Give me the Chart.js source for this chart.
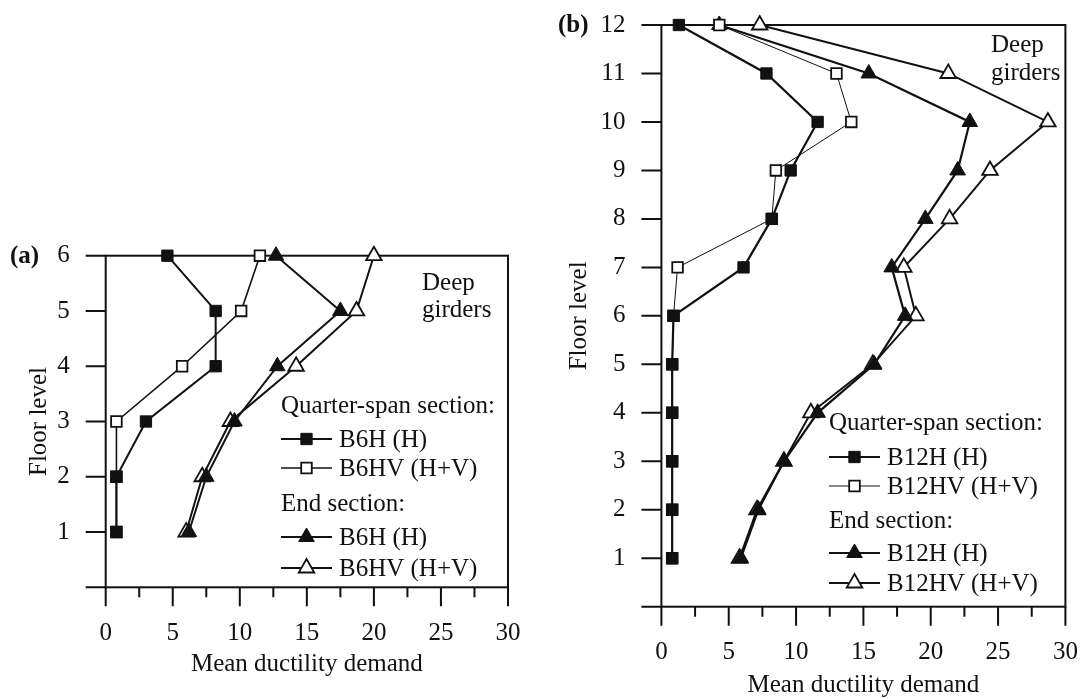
<!DOCTYPE html>
<html>
<head>
<meta charset="utf-8">
<script src="https://cdn.jsdelivr.net/npm/chart.js@4.4.1/dist/chart.umd.min.js"></script>
<style>
  html, body { margin: 0; padding: 0; background: #fff; }
  #boxA { position: absolute; left: 0; top: 0; width: 540px; height: 699px; }
  #boxB { position: absolute; left: 540px; top: 0; width: 541px; height: 699px; }
</style>
</head>
<body>
<div id="boxA"><canvas id="chartA" width="540" height="699"></canvas></div>
<div id="boxB"><canvas id="chartB" width="541" height="699"></canvas></div>
<script>
// values (mean ductility demand per floor)
const floorsA = [1, 2, 3, 4, 5, 6];
const b6hQuarter  = [0.8, 0.8, 3.0, 8.2, 8.2, 4.6];
const b6hvQuarter = [0.8, 0.8, 0.8, 5.7, 10.1, 11.5];
const b6hEnd      = [6.2, 7.5, 9.6, 12.8, 17.5, 12.7];
const b6hvEnd     = [6.0, 7.2, 9.3, 14.2, 18.7, 20.0];

const floorsB = [1, 2, 3, 4, 5, 6, 7, 8, 9, 10, 11, 12];
const b12hQuarter  = [0.8, 0.8, 0.8, 0.8, 0.8, 0.9, 6.1, 8.2, 9.6, 11.6, 7.8, 1.3];
const b12hvQuarter = [0.8, 0.8, 0.8, 0.8, 0.8, 0.9, 1.2, 8.2, 8.5, 14.1, 13.0, 4.3];
const b12hEnd      = [5.9, 7.2, 9.1, 11.6, 15.8, 18.1, 17.1, 19.6, 22.0, 22.9, 15.4, 4.3];
const b12hvEnd     = [5.8, 7.1, 9.1, 11.1, 15.7, 18.9, 18.0, 21.4, 24.4, 28.7, 21.3, 7.3];

const xTicks = [0, 5, 10, 15, 20, 25, 30];

const INK = '#111';
const SERIF = '"Liberation Serif", "Times New Roman", serif';
Chart.defaults.font.family = SERIF;
Chart.defaults.font.size = 25;
Chart.defaults.color = INK;

function series(label, xs, floors, style) {
  return Object.assign({
    label: label,
    data: xs.map((v, i) => ({ x: v, y: floors[i] })),
    borderColor: INK,
    pointBorderColor: INK,
    clip: false,
    tension: 0
  }, style);
}

const filledSq  = { pointStyle: 'rect', pointRadius: 8, pointBackgroundColor: INK, pointBorderWidth: 1, borderWidth: 2 };
const openSq    = { pointStyle: 'rect', pointRadius: 7.5, pointBackgroundColor: '#fff', pointBorderWidth: 1.8, borderWidth: 1.6 };
const filledTri = { pointStyle: 'triangle', pointRadius: 9, pointBackgroundColor: INK, pointBorderWidth: 1, borderWidth: 2 };
const openTri   = { pointStyle: 'triangle', pointRadius: 9, pointBackgroundColor: '#fff', pointBorderWidth: 1.8, borderWidth: 2 };

// draws the box, the tick marks, the panel letter, the note and the grouped legend
const framePlugin = {
  id: 'frame',
  beforeDatasetsDraw(chart) {
    const { ctx, chartArea: a, scales: { x, y } } = chart;
    ctx.save();
    ctx.strokeStyle = INK;
    ctx.lineWidth = 2;
    ctx.strokeRect(a.left, a.top, a.right - a.left, a.bottom - a.top);
    ctx.beginPath();
    for (let v = y.min; v <= y.max; v++) {
      const py = y.getPixelForValue(v);
      ctx.moveTo(a.left - 20, py);
      ctx.lineTo(a.left, py);
    }
    for (let v = x.min; v <= x.max; v += 2.5) {
      const px = x.getPixelForValue(v);
      ctx.moveTo(px, a.bottom);
      ctx.lineTo(px, a.bottom + (v % 5 === 0 ? 19 : 10));
    }
    ctx.stroke();
    ctx.restore();
  },
  afterDraw(chart, args, o) {
    const ctx = chart.ctx;
    const sets = chart.data.datasets;
    ctx.save();
    ctx.fillStyle = INK;
    ctx.textAlign = 'left';
    ctx.textBaseline = 'middle';
    ctx.font = 'bold 25px ' + SERIF;
    ctx.fillText(o.panel, o.panelX, o.panelY);

    ctx.font = '25px ' + SERIF;
    ctx.textBaseline = 'alphabetic';
    o.note.forEach((t, i) => ctx.fillText(t, o.noteX, o.noteY[i]));
    o.headers.forEach(h => ctx.fillText(h.text, o.legX, h.y));

    o.rows.forEach(r => {
      const ds = sets[r.index];
      const x0 = o.legX, x1 = o.legX + 51, cx = (x0 + x1) / 2;
      ctx.strokeStyle = INK;
      ctx.lineWidth = ds.borderWidth;
      ctx.beginPath();
      ctx.moveTo(x0, r.y);
      ctx.lineTo(x1, r.y);
      ctx.stroke();
      ctx.fillStyle = ds.pointBackgroundColor;
      ctx.lineWidth = ds.pointBorderWidth;
      const rad = ds.pointRadius;
      ctx.beginPath();
      if (ds.pointStyle === 'rect') {
        const s = rad * Math.SQRT1_2;
        ctx.rect(cx - s, r.y - s, 2 * s, 2 * s);
      } else {
        ctx.moveTo(cx, r.y - rad);
        ctx.lineTo(cx + rad * Math.sin(Math.PI * 2 / 3), r.y + rad / 2);
        ctx.lineTo(cx - rad * Math.sin(Math.PI * 2 / 3), r.y + rad / 2);
        ctx.closePath();
      }
      ctx.fill();
      ctx.stroke();
      ctx.fillStyle = INK;
      ctx.textBaseline = 'middle';
      ctx.fillText(ds.label, o.legX + 58, r.y + 1);
    });
    ctx.restore();
  }
};

function makeChart(id, datasets, floorMax, box, frame) {
  return new Chart(document.getElementById(id), {
    type: 'line',
    data: { datasets: datasets },
    plugins: [framePlugin],
    options: {
      responsive: false,
      animation: false,
      events: [],
      layout: { autoPadding: false, padding: { top: box.top, right: box.right, left: 0, bottom: 0 } },
      plugins: { legend: { display: false }, tooltip: { enabled: false }, frame: frame },
      scales: {
        x: {
          type: 'linear', min: 0, max: 30,
          afterFit: s => { s.height = box.xHeight; s.paddingLeft = 0; s.paddingRight = 0; },
          afterBuildTicks: s => { s.ticks = xTicks.map(v => ({ value: v })); },
          grid: { display: false, drawTicks: false },
          border: { display: false },
          ticks: { padding: 31, maxRotation: 0, color: INK },
          title: { display: true, text: 'Mean ductility demand', color: INK,
                   font: { size: 25, lineHeight: 1 }, padding: { top: 0, bottom: box.titleBottom } }
        },
        y: {
          type: 'linear', min: 0, max: floorMax,
          afterFit: s => { s.width = box.yWidth; s.paddingTop = 0; s.paddingBottom = 0; },
          grid: { display: false, drawTicks: false },
          border: { display: false },
          ticks: { stepSize: 1, padding: 36, color: INK, callback: v => (v === 0 ? '' : v) },
          title: { display: true, text: 'Floor level', color: INK,
                   font: { size: 25, lineHeight: 1 }, padding: { top: 27, bottom: 0 } }
        }
      }
    }
  });
}

makeChart('chartA', [
  series('B6H (H)', b6hQuarter, floorsA, filledSq),
  series('B6HV (H+V)', b6hvQuarter, floorsA, openSq),
  series('B6H (H)', b6hEnd, floorsA, filledTri),
  series('B6HV (H+V)', b6hvEnd, floorsA, openTri)
], 6, { top: 255.7, right: 32, xHeight: 111.7, yWidth: 105.7, titleBottom: 21.7 }, {
  panel: '(a)', panelX: 10, panelY: 257,
  note: ['Deep', 'girders'], noteX: 422, noteY: [290, 317],
  legX: 281,
  headers: [{ text: 'Quarter-span section:', y: 413 }, { text: 'End section:', y: 511 }],
  rows: [{ index: 0, y: 439 }, { index: 1, y: 468 }, { index: 2, y: 537 }, { index: 3, y: 568 }]
});

makeChart('chartB', [
  series('B12H (H)', b12hQuarter, floorsB, Object.assign({}, filledSq, { borderWidth: 2.2 })),
  series('B12HV (H+V)', b12hvQuarter, floorsB, Object.assign({}, openSq, { borderWidth: 1 })),
  series('B12H (H)', b12hEnd, floorsB, Object.assign({}, filledTri, { borderWidth: 2.2 })),
  series('B12HV (H+V)', b12hvEnd, floorsB, openTri)
], 12, { top: 25, right: 15.6, xHeight: 92.3, yWidth: 121.4, titleBottom: 1 }, {
  panel: '(b)', panelX: 18, panelY: 26,
  note: ['Deep', 'girders'], noteX: 451, noteY: [52, 80],
  legX: 289,
  headers: [{ text: 'Quarter-span section:', y: 430 }, { text: 'End section:', y: 528 }],
  rows: [{ index: 0, y: 457 }, { index: 1, y: 486 }, { index: 2, y: 553 }, { index: 3, y: 583 }]
});
</script>
</body>
</html>
